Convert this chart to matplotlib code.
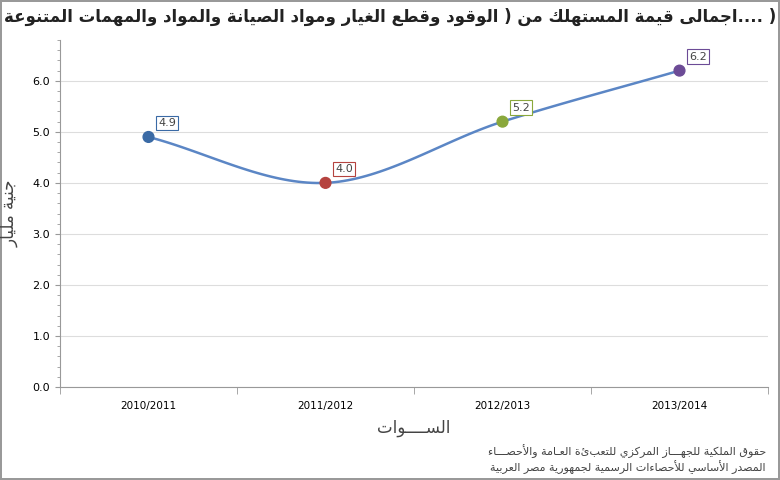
import numpy as np
import matplotlib
matplotlib.use("Agg")
import matplotlib.pyplot as plt
from matplotlib.ticker import MultipleLocator

categories = ["2010/2011", "2011/2012", "2012/2013", "2013/2014"]
values = [4.9, 4.0, 5.2, 6.2]
point_colors = ["#3a6aa5", "#b5433f", "#8aa83c", "#6c4b96"]
yticks = [0.0, 1.0, 2.0, 3.0, 4.0, 5.0, 6.0]

# --- minimal Arabic shaping ---
F = {  # iso, fin, ini, med (None -> right-joining only)
 'ء':('\uFE80',None,None,None),'أ':('\uFE83','\uFE84',None,None),'ا':('\uFE8D','\uFE8E',None,None),
 'ب':('\uFE8F','\uFE90','\uFE91','\uFE92'),'ة':('\uFE93','\uFE94',None,None),
 'ت':('\uFE95','\uFE96','\uFE97','\uFE98'),'ج':('\uFE9D','\uFE9E','\uFE9F','\uFEA0'),
 'ح':('\uFEA1','\uFEA2','\uFEA3','\uFEA4'),'د':('\uFEA9','\uFEAA',None,None),
 'ر':('\uFEAD','\uFEAE',None,None),'ز':('\uFEAF','\uFEB0',None,None),
 'س':('\uFEB1','\uFEB2','\uFEB3','\uFEB4'),'ص':('\uFEB9','\uFEBA','\uFEBB','\uFEBC'),
 'ط':('\uFEC1','\uFEC2','\uFEC3','\uFEC4'),'ع':('\uFEC9','\uFECA','\uFECB','\uFECC'),
 'غ':('\uFECD','\uFECE','\uFECF','\uFED0'),'ف':('\uFED1','\uFED2','\uFED3','\uFED4'),
 'ق':('\uFED5','\uFED6','\uFED7','\uFED8'),'ك':('\uFED9','\uFEDA','\uFEDB','\uFEDC'),
 'ل':('\uFEDD','\uFEDE','\uFEDF','\uFEE0'),'م':('\uFEE1','\uFEE2','\uFEE3','\uFEE4'),
 'ن':('\uFEE5','\uFEE6','\uFEE7','\uFEE8'),'ه':('\uFEE9','\uFEEA','\uFEEB','\uFEEC'),
 'و':('\uFEED','\uFEEE',None,None),'ى':('\uFEEF','\uFEF0',None,None),
 'ي':('\uFEF1','\uFEF2','\uFEF3','\uFEF4'),
}
def dual(c):
    return c == '\u0640' or (c in F and F[c][2] is not None)
def joins(c):
    return c == '\u0640' or (c in F and F[c][1] is not None)
def shape_word(w):
    chars = []
    i = 0
    while i < len(w):
        if w[i] == 'ل' and i + 1 < len(w) and w[i+1] in 'اأ':
            chars.append('LA' if w[i+1] == 'ا' else 'LAH')
            i += 2
        else:
            chars.append(w[i]); i += 1
    out = []
    for k, c in enumerate(chars):
        prev = chars[k-1] if k > 0 else None
        nxt = chars[k+1] if k + 1 < len(chars) else None
        jp = prev is not None and prev not in ('LA', 'LAH') and dual(prev)
        if c in ('LA', 'LAH'):
            iso, fin = ('\uFEFB', '\uFEFC') if c == 'LA' else ('\uFEF7', '\uFEF8')
            out.append(fin if jp else iso); continue
        if c not in F:
            out.append(c); continue
        jp = jp and joins(c)
        jn = dual(c) and nxt is not None and (nxt in ('LA', 'LAH') or joins(nxt))
        iso, fin, ini, med = F[c]
        if jp and jn: out.append(med)
        elif jp: out.append(fin)
        elif jn: out.append(ini)
        else: out.append(iso)
    return ''.join(reversed(out))
def ar(words):
    toks = words.split(' ')[::-1]
    return ' '.join(shape_word(w) if any(ch in F or ch == '\u0640' for ch in w) else w for w in toks)

title = ar(") ....اجمالى قيمة المستهلك من ) الوقود وقطع الغيار ومواد الصيانة والمواد والمهمات المتنوعة")
ylab = ar("جنية مليار")
xlab = ar("الســــوات")
foot1 = ar("حقوق الملكية للجهـــاز المركزي للتعبئة العـامة والأحصـــاء")
foot2 = ar("المصدر الأساسي للأحصاءات الرسمية لجمهورية مصر العربية")

fig = plt.figure(figsize=(7.8, 4.8), dpi=100)
fig.patch.set_edgecolor("#999999"); fig.patch.set_linewidth(1.5)
ax = fig.add_axes([60/780, 1-387/480, 708/780, 347/480])
x = np.arange(len(values))
p = np.array(values, float)
pe = np.concatenate([[2*p[0]-p[1]], p, [2*p[-1]-p[-2]]])
xs, ys = [], []
for i in range(len(p)-1):
    t = np.linspace(0, 1, 40)
    p0, p1, p2, p3 = pe[i], pe[i+1], pe[i+2], pe[i+3]
    y = 0.5*((2*p1) + (-p0+p2)*t + (2*p0-5*p1+4*p2-p3)*t**2 + (-p0+3*p1-3*p2+p3)*t**3)
    xs.append(i+t); ys.append(y)
ax.plot(np.concatenate(xs), np.concatenate(ys), color="#5b86c5", lw=1.8, zorder=2)
ax.scatter(x, values, s=60, c=point_colors, zorder=3)
for xi, v, c in zip(x, values, point_colors):
    ax.annotate(f"{v:.1f}", (xi, v), xytext=(7, 8), textcoords="offset points", fontsize=8,
                color="#444444", bbox=dict(boxstyle="square,pad=0.2", fc="white", ec=c, lw=0.8))
ax.set_xlim(-0.5, 3.5)
ax.set_ylim(0, 6.8)
ax.set_yticks(yticks)
ax.set_yticklabels([f"{t:.1f}" for t in yticks], fontsize=8)
ax.yaxis.set_minor_locator(MultipleLocator(0.2))
ax.set_xticks(x)
ax.set_xticklabels(categories, fontsize=7.5)
ax.set_xticks(np.arange(-0.5, 3.6, 1), minor=True)
ax.tick_params(axis="x", which="major", length=0, pad=10)
ax.tick_params(axis="x", which="minor", length=5, color="#999999")
ax.tick_params(axis="y", which="both", color="#999999")
ax.grid(axis="y", color="#dddddd", lw=0.8)
ax.set_axisbelow(True)
for s in ["top", "right"]:
    ax.spines[s].set_visible(False)
for s in ["left", "bottom"]:
    ax.spines[s].set_color("#999999")
ax.set_xlabel(xlab, fontsize=12, color="#444444", labelpad=6)
ax.set_ylabel(ylab, fontsize=12, color="#444444", labelpad=8)
ax.yaxis.set_label_coords(-0.058, 0.5)
fig.text(0.5, 1-17/480, title, ha="center", va="center", fontsize=12, fontweight="bold", color="#222222")
fig.text(766/780, 1-451/480, foot1, ha="right", va="center", fontsize=8, color="#444444")
fig.text(766/780, 1-467/480, foot2, ha="right", va="center", fontsize=8, color="#444444")
fig.savefig("out.png", dpi=100)
